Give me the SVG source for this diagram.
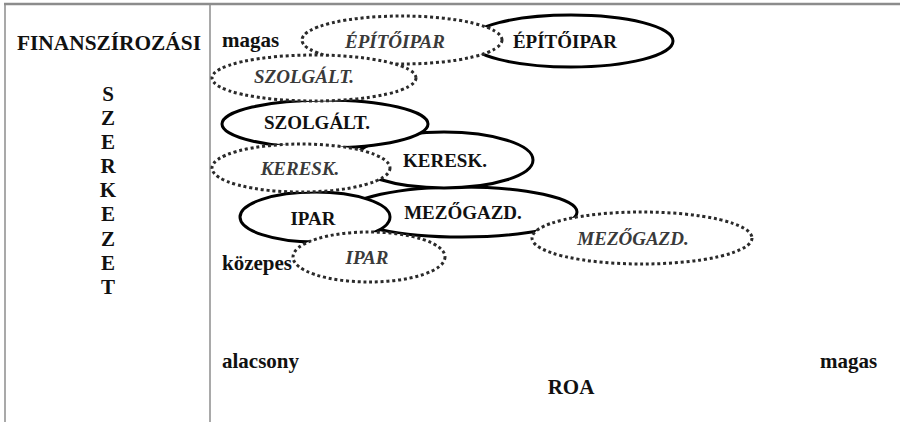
<svg xmlns="http://www.w3.org/2000/svg" width="900" height="422" viewBox="0 0 900 422" font-family="'Liberation Serif', 'Times New Roman', Times, serif">
<style>
text{font-family:'Liberation Serif','Times New Roman',Times,serif;font-weight:700;fill:#111}
.lbl{font-size:21px}
.in{font-size:19px;text-anchor:middle}
.it{font-size:19px;text-anchor:middle;font-style:italic;fill:#3a3a3a}
.sol{fill:#fff;stroke:#000;stroke-width:3}
.dot{fill:#fff;stroke:#2a2a2a;stroke-width:3;stroke-dasharray:3 2.8}
.frame{stroke:#8c8c8c;fill:none}
</style>
<rect width="900" height="422" fill="#fff"/>
<g id="frame">
<line class="frame" x1="4" y1="4" x2="900" y2="4" stroke-width="2.5"/>
<line class="frame" x1="5" y1="4" x2="5" y2="422" stroke-width="1.5"/>
<line class="frame" x1="210" y1="4" x2="210" y2="422" stroke-width="1.5"/>
</g>
<g id="axis-labels">
<text class="lbl" x="17" y="50" textLength="184" lengthAdjust="spacingAndGlyphs">FINANSZÍROZÁSI</text>
<text class="lbl" x="108" y="101" text-anchor="middle">S</text>
<text class="lbl" x="108" y="125" text-anchor="middle">Z</text>
<text class="lbl" x="108" y="149" text-anchor="middle">E</text>
<text class="lbl" x="108" y="173" text-anchor="middle">R</text>
<text class="lbl" x="108" y="197" text-anchor="middle">K</text>
<text class="lbl" x="108" y="221" text-anchor="middle">E</text>
<text class="lbl" x="108" y="246" text-anchor="middle">Z</text>
<text class="lbl" x="108" y="270" text-anchor="middle">E</text>
<text class="lbl" x="108" y="294" text-anchor="middle">T</text>
<text class="lbl" x="222" y="368">alacsony</text>
<text class="lbl" x="820" y="368">magas</text>
<text class="lbl" x="571" y="394" text-anchor="middle">ROA</text>
</g>
<g id="connectors"></g>
<g id="solid-mezogazd"><ellipse class="sol" cx="462" cy="212" rx="115" ry="25"/><text class="in" x="463" y="219">MEZŐGAZD.</text></g>
<g id="solid-keresk"><ellipse class="sol" cx="444" cy="160" rx="89" ry="28"/><text class="in" x="445" y="167">KERESK.</text></g>
<g id="solid-szolgalt"><ellipse class="sol" cx="325" cy="124" rx="103" ry="24"/><text class="in" x="317" y="129">SZOLGÁLT.</text></g>
<g id="solid-ipar"><ellipse class="sol" cx="315" cy="217" rx="75" ry="25"/><text class="in" x="313" y="225">IPAR</text></g>
<g id="solid-epitoipar"><ellipse class="sol" cx="571" cy="41" rx="102" ry="26"/><text class="in" x="565" y="48">ÉPÍTŐIPAR</text></g>
<g id="dot-epitoipar"><ellipse class="dot" cx="402" cy="40" rx="100" ry="24"/><text class="it" x="395" y="48">ÉPÍTŐIPAR</text></g>
<g id="dot-szolgalt"><ellipse class="dot" cx="314" cy="78" rx="102" ry="23"/><text class="it" x="304" y="83">SZOLGÁLT.</text></g>
<g id="dot-keresk"><ellipse class="dot" cx="301" cy="168" rx="89" ry="24"/><text class="it" x="300" y="175">KERESK.</text></g>
<g id="dot-mezogazd"><ellipse class="dot" cx="642" cy="238" rx="110" ry="26"/><text class="it" x="633" y="245">MEZŐGAZD.</text></g>
<g id="dot-ipar"><ellipse class="dot" cx="369" cy="257" rx="76" ry="25"/><text class="it" x="367" y="264">IPAR</text></g>
<g id="level-labels">
<text class="lbl" x="222" y="47">magas</text>
<text class="lbl" x="222" y="270">közepes</text>
</g>
</svg>
